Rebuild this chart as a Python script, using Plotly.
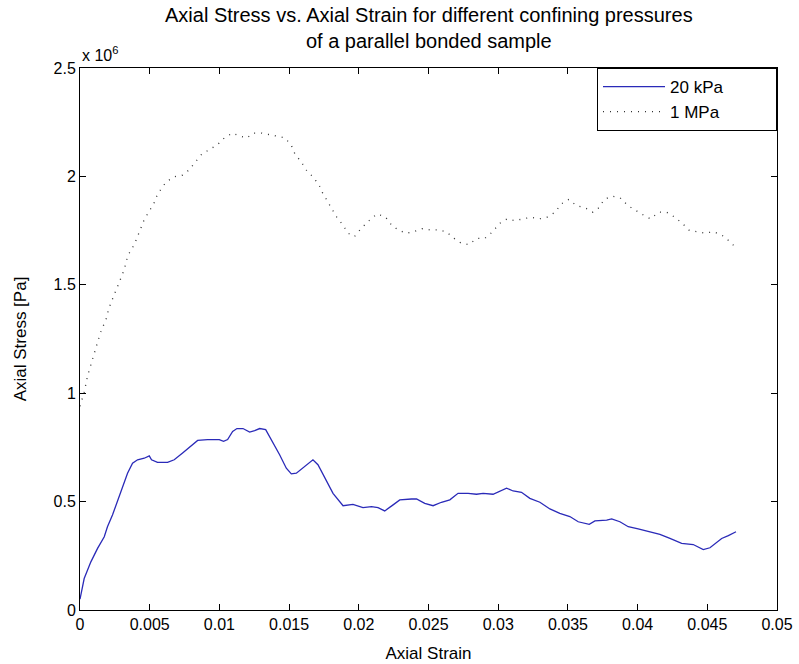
import numpy as np
import plotly.graph_objects as go

# Axial strain / axial stress (stress in units of 1e6 Pa)
strain_20kpa = [0.0, 0.0003, 0.00078, 0.00126, 0.00174, 0.00197, 0.00233, 0.00269, 0.00305,
                0.00341, 0.00377, 0.00413, 0.00461, 0.00497, 0.00513, 0.00556, 0.00628, 0.00676,
                0.00736, 0.00795, 0.00844, 0.00915, 0.00999, 0.0103, 0.01059, 0.01095, 0.01126,
                0.01169, 0.01217, 0.01253, 0.01289, 0.01332, 0.01373, 0.01432, 0.0148, 0.01516,
                0.01552, 0.01612, 0.01671, 0.01707, 0.01755, 0.01815, 0.01887, 0.01958, 0.0203,
                0.02091, 0.02138, 0.02186, 0.02246, 0.02294, 0.02378, 0.02414, 0.02473, 0.02533,
                0.02593, 0.02653, 0.02712, 0.02784, 0.02844, 0.02892, 0.02963, 0.03012, 0.0306,
                0.03107, 0.03167, 0.03227, 0.03299, 0.03371, 0.03442, 0.03514, 0.03574, 0.03653,
                0.03694, 0.03778, 0.03814, 0.03873, 0.03933, 0.04004, 0.04076, 0.0416, 0.04232,
                0.04316, 0.04399, 0.04471, 0.04519, 0.04603, 0.04651, 0.04706]
stress_20kpa = [0.05, 0.145, 0.222, 0.284, 0.338, 0.384, 0.438, 0.5, 0.562,
                0.631, 0.677, 0.693, 0.7, 0.711, 0.693, 0.681, 0.681, 0.693,
                0.724, 0.755, 0.782, 0.786, 0.786, 0.778, 0.786, 0.824, 0.837,
                0.837, 0.821, 0.827, 0.837, 0.832, 0.786, 0.716, 0.654, 0.628,
                0.631, 0.662, 0.693, 0.67, 0.608, 0.538, 0.481, 0.487, 0.472,
                0.477, 0.472, 0.457, 0.485, 0.508, 0.512, 0.512, 0.492, 0.481,
                0.497, 0.508, 0.538, 0.538, 0.534, 0.538, 0.534, 0.549, 0.562,
                0.549, 0.543, 0.515, 0.497, 0.466, 0.446, 0.431, 0.407, 0.395,
                0.411, 0.415, 0.42, 0.407, 0.384, 0.374, 0.361, 0.349, 0.33,
                0.307, 0.302, 0.279, 0.287, 0.33, 0.343, 0.361]

strain_1mpa = [0.0, 0.00032, 0.00054, 0.00083, 0.00112, 0.00145, 0.00169, 0.00192, 0.00205,
               0.00226, 0.0025, 0.00274, 0.00298, 0.00319, 0.00332, 0.00355, 0.00389, 0.00413,
               0.00434, 0.00458, 0.00492, 0.00528, 0.00551, 0.00585, 0.00619, 0.00678, 0.00736,
               0.00781, 0.00827, 0.00874, 0.00932, 0.00989, 0.01035, 0.01093, 0.0115, 0.01197,
               0.01243, 0.01301, 0.01358, 0.01416, 0.01473, 0.01518, 0.01542, 0.01588, 0.01624,
               0.01669, 0.01714, 0.01739, 0.01772, 0.01808, 0.01841, 0.01887, 0.01923, 0.01968,
               0.02016, 0.02073, 0.02131, 0.02191, 0.02236, 0.02282, 0.02339, 0.02396, 0.02454,
               0.02511, 0.02569, 0.02626, 0.02684, 0.02732, 0.02789, 0.02847, 0.02904, 0.02961,
               0.03007, 0.03064, 0.03121, 0.03179, 0.03236, 0.03294, 0.03351, 0.03409, 0.0345,
               0.03507, 0.03564, 0.03622, 0.03679, 0.03724, 0.0376, 0.03818, 0.03875, 0.03933,
               0.0399, 0.04048, 0.04093, 0.04151, 0.04208, 0.04266, 0.04323, 0.04371, 0.04428,
               0.04485, 0.04543, 0.04603, 0.04661, 0.04706]
stress_1mpa = [0.94, 1.009, 1.079, 1.148, 1.204, 1.276, 1.313, 1.35, 1.388,
               1.425, 1.462, 1.499, 1.536, 1.573, 1.611, 1.648, 1.685, 1.722,
               1.759, 1.796, 1.835, 1.872, 1.909, 1.946, 1.975, 1.999, 2.006,
               2.029, 2.066, 2.103, 2.125, 2.148, 2.177, 2.2, 2.185, 2.177,
               2.2, 2.2, 2.193, 2.185, 2.177, 2.14, 2.103, 2.066, 2.029,
               1.999, 1.962, 1.925, 1.888, 1.85, 1.813, 1.775, 1.738, 1.722,
               1.759, 1.796, 1.827, 1.813, 1.775, 1.753, 1.738, 1.745, 1.759,
               1.753, 1.753, 1.745, 1.714, 1.693, 1.685, 1.714, 1.714, 1.745,
               1.782, 1.804, 1.796, 1.804, 1.812, 1.804, 1.812, 1.835, 1.872,
               1.894, 1.864, 1.856, 1.835, 1.856, 1.894, 1.909, 1.901, 1.864,
               1.841, 1.819, 1.804, 1.835, 1.835, 1.812, 1.782, 1.751, 1.745,
               1.738, 1.745, 1.73, 1.7, 1.67]

x_ticks = [0, 0.005, 0.01, 0.015, 0.02, 0.025, 0.03, 0.035, 0.04, 0.045, 0.05]
x_tick_labels = ["0", "0.005", "0.01", "0.015", "0.02", "0.025", "0.03", "0.035", "0.04", "0.045", "0.05"]
y_ticks = [0, 0.5, 1, 1.5, 2, 2.5]
y_tick_labels = ["0", "0.5", "1", "1.5", "2", "2.5"]

SCALE = 1e6
FONT = "Liberation Sans"
# trailing non-breaking spaces give the legend box its wide right padding
PAD = "\u00a0" * 10

fig = go.Figure()
fig.add_trace(go.Scatter(
    x=strain_20kpa, y=np.array(stress_20kpa) * SCALE, mode="lines", name="20 kPa" + PAD,
    line=dict(color="#2a2ab8", width=1.3)))
fig.add_trace(go.Scatter(
    x=strain_1mpa, y=np.array(stress_1mpa) * SCALE, mode="lines", name="1 MPa" + PAD,
    line=dict(color="#333333", width=1.3, dash="1px,6px")))

axis_common = dict(
    showgrid=False, zeroline=False, showline=True, linecolor="black", linewidth=1,
    mirror="ticks", ticks="inside", ticklen=6, tickcolor="black", tickwidth=1,
    tickfont=dict(family=FONT, size=16, color="black"),
    automargin=False,
)

fig.update_layout(
    width=799, height=664,
    margin=dict(l=80, r=22, t=68, b=54),
    paper_bgcolor="white", plot_bgcolor="white",
    font=dict(family=FONT, size=16, color="black"),
    xaxis=dict(range=[0, 0.05], tickvals=x_ticks, ticktext=x_tick_labels,
               title=dict(text="Axial Strain", standoff=14, font=dict(family=FONT, size=17)),
               **axis_common),
    yaxis=dict(range=[0, 2.5 * SCALE], tickvals=[v * SCALE for v in y_ticks], ticktext=y_tick_labels,
               title=dict(text="Axial Stress [Pa]", standoff=22, font=dict(family=FONT, size=17)),
               **axis_common),
    legend=dict(x=1, y=1, xanchor="right", yanchor="top", bgcolor="white",
                bordercolor="black", borderwidth=1, itemwidth=62,
                font=dict(family=FONT, size=17, color="black"),
                tracegroupgap=6),
    annotations=[
        dict(text="Axial Stress vs. Axial Strain for different confining pressures<br>of a parallel bonded sample",
             xref="paper", yref="paper", x=0.5, y=1, xanchor="center", yanchor="bottom",
             yshift=14, showarrow=False, align="center",
             font=dict(family=FONT, size=20, color="black")),
        dict(text="x 10<sup>6</sup>", xref="paper", yref="paper", x=0, y=1,
             xanchor="left", yanchor="bottom", showarrow=False, yshift=2,
             font=dict(family=FONT, size=16, color="black")),
    ],
)

fig.write_html("out.html")
